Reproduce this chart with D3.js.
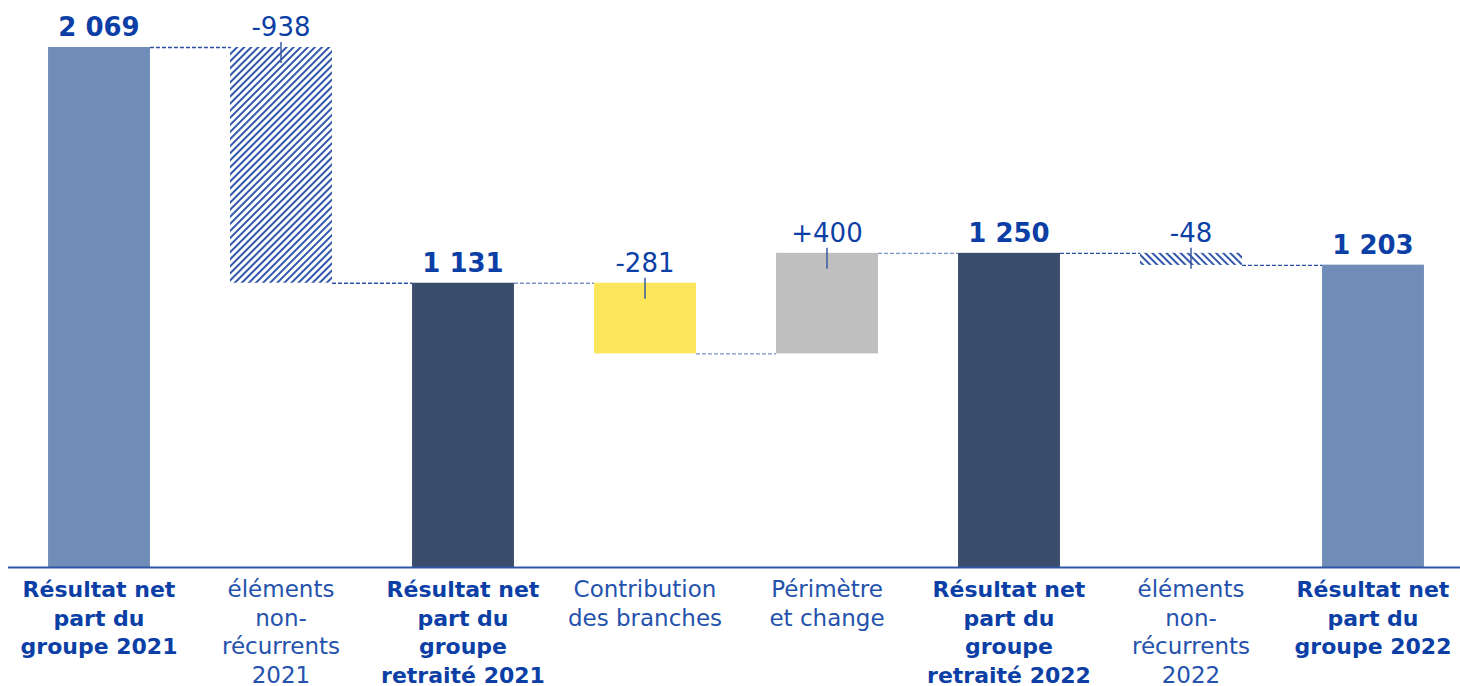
<!DOCTYPE html>
<html>
<head>
<meta charset="utf-8">
<script src="https://cdn.jsdelivr.net/npm/d3@7"></script>
<style>
  body { margin: 0; background: #fff; }
  svg { display: block; font-family: "DejaVu Sans", "Noto Sans", sans-serif; }
</style>
</head>
<body>
<svg id="chart" width="1460" height="686"></svg>
<script>
// data
const categories = [
  ["Résultat net", "part du", "groupe 2021"],
  ["éléments", "non-", "récurrents", "2021"],
  ["Résultat net", "part du", "groupe", "retraité 2021"],
  ["Contribution", "des branches"],
  ["Périmètre", "et change"],
  ["Résultat net", "part du", "groupe", "retraité 2022"],
  ["éléments", "non-", "récurrents", "2022"],
  ["Résultat net", "part du", "groupe 2022"]
];
const values = [2069, -938, 1131, -281, 400, 1250, -48, 1203];
const kinds = ["total", "hatch", "total", "delta", "delta", "total", "hatch2", "total"];
const valueLabels = ["2 069", "-938", "1 131", "-281", "+400", "1 250", "-48", "1 203"];
const fills = ["#6f8db8", "url(#hatchA)", "#3a4d6c", "#fce65b", "#bfbfbf", "#3a4d6c", "url(#hatchB)", "#6f8db8"];

const blue = "#0b3fa6";
const svg = d3.select("#chart");

// hatch patterns
const defs = svg.append("defs");
[["hatchA", 45], ["hatchB", -45]].forEach(([id, ang]) => {
  const p = defs.append("pattern")
    .attr("id", id)
    .attr("patternUnits", "userSpaceOnUse")
    .attr("width", 5).attr("height", 5)
    .attr("patternTransform", `rotate(${ang})`);
  p.append("rect").attr("width", 5).attr("height", 5).attr("fill", "#fff");
  p.append("line").attr("x1", 1).attr("y1", 0).attr("x2", 1).attr("y2", 5)
    .attr("stroke", "#0c3a9c").attr("stroke-width", 1.7);
});

// compute waterfall segments
let running = 0;
const bars = values.map((v, i) => {
  let y0, y1;
  if (kinds[i] === "total") { y0 = 0; y1 = v; running = v; }
  else { y0 = running; y1 = running + v; running = y1; }
  return { i, v, lo: Math.min(y0, y1), hi: Math.max(y0, y1), end: y1, kind: kinds[i] };
});

const x = d3.scaleBand()
  .domain(d3.range(values.length))
  .range([8, 1464])
  .paddingInner(0.44)
  .paddingOuter(0.22);

const y = d3.scaleLinear().domain([0, 2069]).range([567, 47]);

// connectors
for (let i = 0; i < bars.length - 1; i++) {
  const lvl = bars[i].end;
  const dark = bars[i].kind.startsWith("hatch") || bars[i + 1].kind.startsWith("hatch");
  svg.append("line")
    .attr("x1", x(i) + x.bandwidth())
    .attr("x2", x(i + 1))
    .attr("y1", y(lvl) + 0.5).attr("y2", y(lvl) + 0.5)
    .attr("stroke", dark ? "#2a4f9e" : "#7a93c4")
    .attr("stroke-width", 1.3)
    .attr("stroke-dasharray", "4,2");
}

// bars
svg.selectAll("rect.bar")
  .data(bars)
  .enter().append("rect")
  .attr("class", "bar")
  .attr("x", d => x(d.i))
  .attr("width", x.bandwidth())
  .attr("y", d => y(d.hi))
  .attr("height", d => y(d.lo) - y(d.hi))
  .attr("fill", d => fills[d.i]);

// ticks on delta bars
svg.selectAll("line.tick")
  .data(bars.filter(d => d.kind !== "total"))
  .enter().append("line")
  .attr("class", "tick")
  .attr("x1", d => x(d.i) + x.bandwidth() / 2)
  .attr("x2", d => x(d.i) + x.bandwidth() / 2)
  .attr("y1", d => y(d.hi) - 5)
  .attr("y2", d => y(d.hi) + 16)
  .attr("stroke", "#3a5aa0")
  .attr("stroke-width", 1.5);

// value labels
svg.selectAll("text.val")
  .data(bars)
  .enter().append("text")
  .attr("class", "val")
  .attr("x", d => x(d.i) + x.bandwidth() / 2)
  .attr("y", d => y(d.hi) - 11)
  .attr("text-anchor", "middle")
  .attr("fill", blue)
  .attr("font-size", 26)
  .attr("font-weight", d => d.kind === "total" ? 700 : 400)
  .text(d => valueLabels[d.i]);

// baseline
svg.append("line")
  .attr("x1", 8).attr("x2", 1460)
  .attr("y1", 567.5).attr("y2", 567.5)
  .attr("stroke", "#2f56a6").attr("stroke-width", 2);

// category labels
const cat = svg.selectAll("text.cat")
  .data(categories)
  .enter().append("text")
  .attr("class", "cat")
  .attr("text-anchor", "middle")
  .attr("fill", (d, i) => kinds[i] === "total" ? blue : "#2452ac")
  .attr("font-size", (d, i) => kinds[i] === "total" ? 22 : 23)
  .attr("font-weight", (d, i) => kinds[i] === "total" ? 700 : 400);

cat.selectAll("tspan")
  .data((d, i) => d.map(t => ({ t, i })))
  .enter().append("tspan")
  .attr("x", d => x(d.i) + x.bandwidth() / 2)
  .attr("y", (d, j) => 597 + j * 28.5)
  .text(d => d.t);
</script>
</body>
</html>
